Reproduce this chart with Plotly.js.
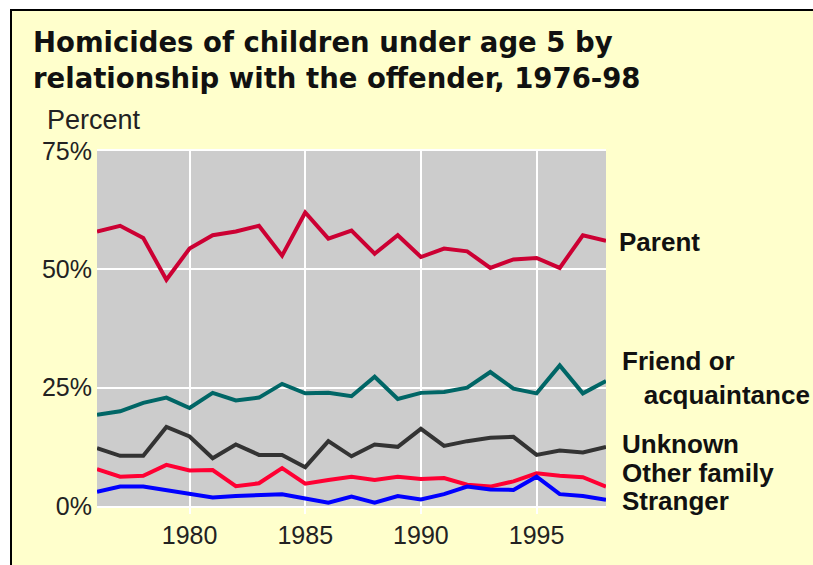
<!DOCTYPE html>
<html>
<head>
<meta charset="utf-8">
<script src="https://cdn.plot.ly/plotly-3.0.1.min.js"></script>
<style>
  html, body { margin: 0; padding: 0; background: #ffffff; width: 813px; height: 565px; overflow: hidden; }
  #frame { position: absolute; left: 10px; top: 9px; width: 813px; height: 565px;
           border-left: 2px solid #000; border-top: 2px solid #000; background: #ffffcc; }
  #chart { position: absolute; left: 0; top: 0; width: 813px; height: 565px; }
</style>
</head>
<body>
<div id="frame"></div>
<div id="chart"></div>
<script>
const years = [1976,1977,1978,1979,1980,1981,1982,1983,1984,1985,1986,1987,1988,1989,1990,1991,1992,1993,1994,1995,1996,1997,1998];
const seriesNames = ["Parent", "Friend or<br>   acquaintance", "Unknown", "Other family", "Stranger"];
const parent   = [58.0,59.2,56.6,47.8,54.4,57.2,58.0,59.2,52.9,62.0,56.5,58.2,53.3,57.2,52.6,54.4,53.8,50.3,52.1,52.4,50.3,57.2,56.0];
const friend   = [19.3,20.0,21.8,22.9,20.7,23.9,22.3,22.9,25.8,23.8,23.9,23.2,27.3,22.6,23.9,24.1,25.0,28.3,24.8,23.8,29.7,23.8,26.4];
const unknown  = [12.2,10.6,10.6,16.7,14.7,10.1,13.0,10.8,10.8,8.2,13.7,10.5,13.0,12.5,16.3,12.7,13.7,14.4,14.6,10.8,11.7,11.3,12.5];
const other    = [7.8,6.2,6.4,8.7,7.5,7.6,4.2,4.8,8.0,4.7,5.5,6.2,5.5,6.2,5.7,5.9,4.5,4.1,5.2,6.9,6.4,6.1,4.1];
const stranger = [3.0,4.1,4.1,3.4,2.5,1.8,2.1,2.3,2.5,1.6,0.7,2.0,0.7,2.1,1.4,2.5,4.1,3.5,3.4,6.2,2.5,2.1,1.3];
const xTicks = [1980,1985,1990,1995];
const yTicks = [0,25,50,75];
const yTickText = ["0%","25%","50%","75%"];

const colors = ["#cc0033", "#006666", "#333333", "#ff0033", "#0000ff"];
const values = [parent, friend, unknown, other, stranger];

const traces = values.map((v, i) => ({
  x: years, y: v, type: "scatter", mode: "lines",
  name: seriesNames[i].replace("<br>   ", " "),
  line: { color: colors[i], width: 4 },
  hoverinfo: "x+y"
}));

// plot area in pixels: left 97, right 606, top 151, bottom 506
const L = 97, R = 606, T = 151, B = 506;
const px = x => (x - L) / (R - L);
const py = y => (B - y) / (B - T);

const labelY = [242, 378, 444, 472.5, 501];
const labelX = [617, 620, 620, 620, 620];
const annotations = seriesNames.map((n, i) => ({
  text: n, xref: "paper", yref: "paper",
  x: px(labelX[i]), y: py(labelY[i]), xanchor: "left", yanchor: "middle",
  showarrow: false, align: "left",
  font: { family: "Liberation Sans, Arial, sans-serif", size: 26, color: "#111", weight: "bold" }
}));

annotations.push({
  text: "Percent", xref: "paper", yref: "paper",
  x: px(45), y: py(120), xanchor: "left", yanchor: "middle", showarrow: false,
  font: { family: "Liberation Sans, Arial, sans-serif", size: 27, color: "#222" }
});

const layout = {
  width: 813, height: 565,
  margin: { l: L, r: 813 - R, t: T, b: 565 - B, pad: 0 },
  paper_bgcolor: "rgba(0,0,0,0)",
  plot_bgcolor: "#cccccc",
  showlegend: false,
  title: {
    text: "Homicides of children under age 5 by<br>relationship with the offender, 1976-98",
    x: 33 / 813, xref: "container", xanchor: "left",
    y: 1 - 52 / 565, yref: "container", yanchor: "top",
    font: { family: "DejaVu Sans, sans-serif", size: 27.5, color: "#111", weight: "bold" }
  },
  xaxis: {
    range: [1976, 1998], tickvals: xTicks, ticktext: xTicks.map(String),
    showgrid: true, gridcolor: "#ffffff", gridwidth: 2,
    zeroline: false, showline: true, linecolor: "#ffffff", linewidth: 2, mirror: true,
    ticks: "outside", ticklen: 6, tickwidth: 2, tickcolor: "#ffffff",
    tickfont: { family: "Liberation Sans, Arial, sans-serif", size: 25, color: "#222" }
  },
  yaxis: {
    range: [0, 75], tickvals: yTicks, ticktext: yTickText,
    showgrid: true, gridcolor: "#ffffff", gridwidth: 2,
    zeroline: false, showline: false, ticks: "",
    ticklabelstandoff: 4,
    tickfont: { family: "Liberation Sans, Arial, sans-serif", size: 25, color: "#222" }
  },
  annotations: annotations
};

Plotly.newPlot("chart", traces, layout, { displayModeBar: false, staticPlot: true });
</script>
</body>
</html>
